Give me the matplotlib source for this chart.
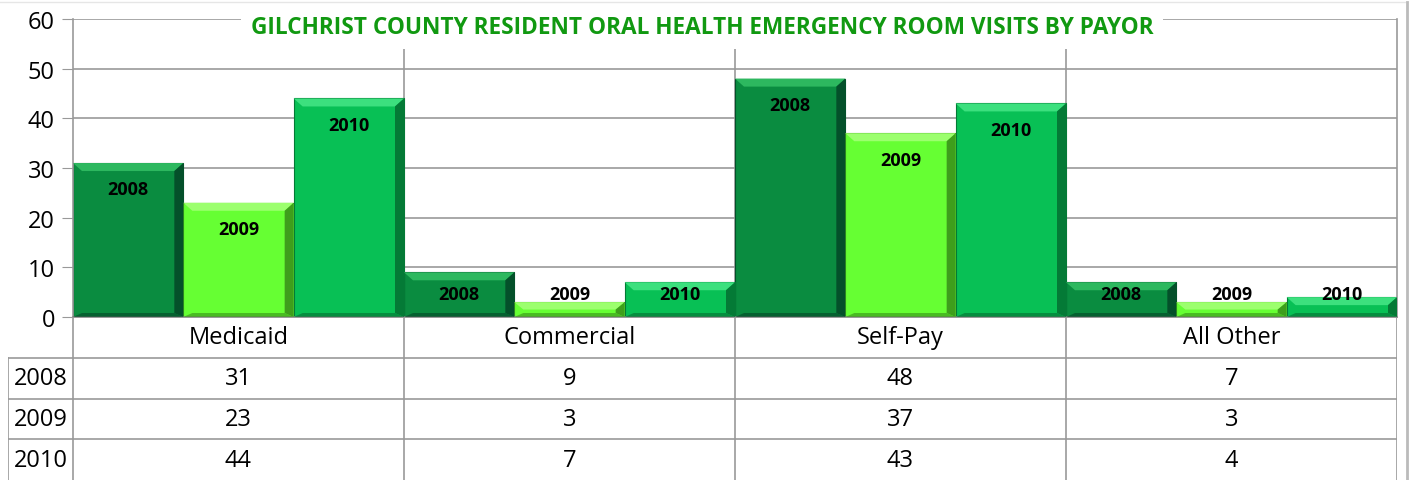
import matplotlib.pyplot as plt
from matplotlib.patches import Polygon
from matplotlib.lines import Line2D
import numpy as np

# data
categories = ['Medicaid', 'Commercial', 'Self-Pay', 'All Other']
years = ['2008', '2009', '2010']
v2008 = [31, 9, 48, 7]
v2009 = [23, 3, 37, 3]
v2010 = [44, 7, 43, 4]
series = [v2008, v2009, v2010]
yticks = [0, 10, 20, 30, 40, 50, 60]

colors = ['#0A8C40', '#66FF33', '#08C055']
lights = ['#2DB85F', '#9CFF6E', '#3CE07E']
darks = ['#04502A', '#3E9E1C', '#047A36']

plt.rcParams['font.family'] = ['Open Sans', 'DejaVu Sans']

W, H = 1416, 481
fig = plt.figure(figsize=(W / 100, H / 100), dpi=100)

# plot area in pixels
x0, x1, y_top, y_zero = 73, 1397, 20, 318
ax = fig.add_axes([x0 / W, 1 - y_zero / H, (x1 - x0) / W, (y_zero - y_top) / H])
ax.set_xlim(0, 4)
ax.set_ylim(0, 60)
ax.set_yticks(yticks)
ax.tick_params(axis='y', labelsize=17, length=8, color='#999999', pad=5)
ax.set_xticks([])
for x in range(1, 4):
    ax.axvline(x, color='#999999', lw=1.2, zorder=0)
for y in yticks[1:]:
    ax.axhline(y, color='#999999', lw=1.2, zorder=0)
for s in ['left', 'right']:
    ax.spines[s].set_color('#999999')
    ax.spines[s].set_linewidth(1.2)
ax.spines['top'].set_visible(False)
ax.spines['bottom'].set_color('#888888')
ax.spines['bottom'].set_linewidth(1.2)

bw = 1 / 3
xpx = 4 / (x1 - x0)            # data units per pixel, x
ypx = 60 / (y_zero - y_top)    # data units per pixel, y
xs = np.arange(len(categories))
for i, vals in enumerate(series):
    bars = ax.bar(xs + bw * i, vals, width=bw, align='edge', color=colors[i],
                  edgecolor=darks[i], lw=0.8, zorder=2)
    for b, v in zip(bars, vals):
        bx, bwid, bh = b.get_x(), b.get_width(), b.get_height()
        dx = min(9 * xpx, bwid / 2)
        dy = min(8 * ypx, bh / 2)
        dyb = min(4 * ypx, bh / 2)
        # bevel faces: top light, right dark, bottom dark
        top = [(bx, bh), (bx + bwid, bh), (bx + bwid - dx, bh - dy), (bx + dx, bh - dy)]
        right = [(bx + bwid, bh), (bx + bwid, 0), (bx + bwid - dx, dyb), (bx + bwid - dx, bh - dy)]
        bottom = [(bx, 0), (bx + bwid, 0), (bx + bwid - dx, dyb), (bx + dx, dyb)]
        ax.add_patch(Polygon(top, color=lights[i], lw=0, zorder=3))
        ax.add_patch(Polygon(right, color=darks[i], lw=0, zorder=3))
        ax.add_patch(Polygon(bottom, color=darks[i], lw=0, alpha=0.7, zorder=3))
        ax.text(bx + bwid / 2, max(v - 5.3, 4.6), years[i], ha='center', va='center',
                fontsize=13, fontweight='bold', color='black', zorder=5)

ax.text(1.9, 60 - 8 * ypx, 'GILCHRIST COUNTY RESIDENT ORAL HEALTH EMERGENCY ROOM VISITS BY PAYOR',
        ha='center', va='center', fontsize=16.3, fontweight='bold', color='#119911', zorder=6,
        bbox=dict(facecolor='white', edgecolor='none', pad=7))

# data table below the plot
tl = 8
tax = fig.add_axes([tl / W, 0, (x1 - tl) / W, 1 - y_zero / H])
cw = (x0 - tl) / ((x1 - x0) / 4)
tax.set_xlim(-cw, 4)
tax.set_ylim(0, 4)
tax.axis('off')
gc = '#999999'
for x in range(0, 5):
    tax.add_line(Line2D([x, x], [0, 4], color=gc, lw=1.2))
tax.add_line(Line2D([-cw, -cw], [0, 3], color=gc, lw=1.2))
for y in [1, 2, 3]:
    tax.add_line(Line2D([-cw, 4], [y, y], color=gc, lw=1.2))
for j, c in enumerate(categories):
    tax.text(j + 0.5, 3.5, c, ha='center', va='center', fontsize=17)
for i, vals in enumerate(series):
    yc = 2.5 - i
    tax.text(-cw / 2, yc, years[i], ha='center', va='center', fontsize=17)
    for j, v in enumerate(vals):
        tax.text(j + 0.5, yc, str(v), ha='center', va='center', fontsize=17)

# chart area frame
fig.add_artist(Line2D([0, 1405 / W], [1 - 3 / H, 1 - 3 / H], color='#E6E6E6', lw=1))
fig.add_artist(Line2D([1407 / W, 1407 / W], [0, 1 - 3 / H], color='#BBBBBB', lw=2))

fig.savefig('out.png', dpi=100)
